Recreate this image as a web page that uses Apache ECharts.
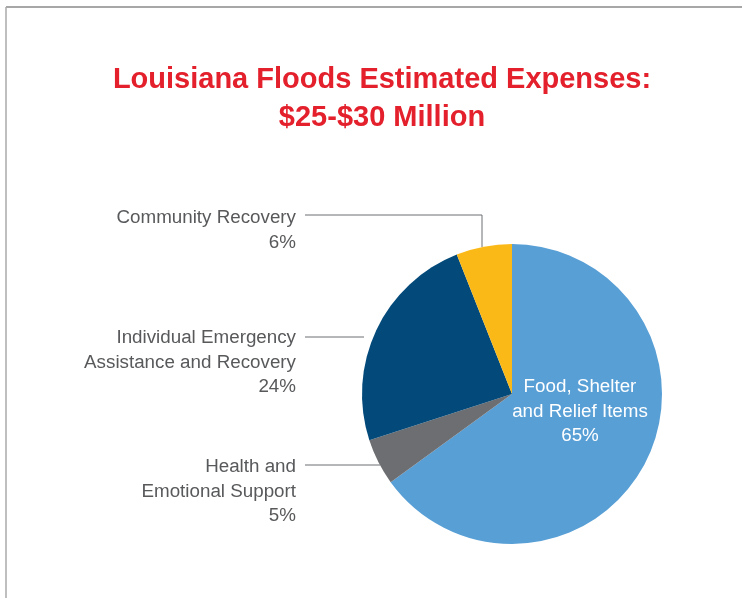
<!DOCTYPE html>
<html><head><meta charset="utf-8">
<script src="https://cdn.jsdelivr.net/npm/echarts@6/dist/echarts.min.js"></script>
<style>html,body{margin:0;padding:0;background:#fff}#c{width:742px;height:598px}</style>
</head><body><div id="c"></div>
<script>
const categories = ['Food, Shelter\nand Relief Items', 'Health and\nEmotional Support', 'Individual Emergency\nAssistance and Recovery', 'Community Recovery'];
const values = [65, 5, 24, 6];
const colors = ['#589fd6', '#6d6e71', '#034a7a', '#fbb918'];
const titleLines = ['Louisiana Floods Estimated Expenses:', '$25-$30 Million'];

const chart = echarts.init(document.getElementById('c'));
const labelPos = {
  0: {x: 580, y: 375, align: 'center'},
  1: {x: 296, y: 455, align: 'right', pts: [[380, 465], [305, 465]]},
  2: {x: 296, y: 326, align: 'right', pts: [[364, 337], [305, 337]]},
  3: {x: 296, y: 206, align: 'right', pts: [[482, 247], [482, 215], [305, 215]]}
};
chart.setOption({
  animation: false,
  title: {
    text: titleLines.join('\n'),
    left: 377, top: 56, textAlign: 'center',
    textStyle: {color: '#e3202b', fontSize: 29, fontWeight: 'bold', fontFamily: 'Liberation Sans', lineHeight: 38}
  },
  graphic: [
    {type: 'line', shape: {x1: 6, y1: 7, x2: 742, y2: 7}, style: {stroke: '#8a8a8a', lineWidth: 1.5}},
    {type: 'line', shape: {x1: 6, y1: 7, x2: 6, y2: 598}, style: {stroke: '#aaaaaa', lineWidth: 1.5}}
  ],
  series: [{
    type: 'pie',
    center: [512, 394],
    radius: 150,
    startAngle: 90,
    clockwise: true,
    color: colors,
    data: categories.map((n, i) => ({
      name: n, value: values[i],
      label: i === 0 ? {color: '#ffffff', position: 'inside', align: 'center', overflow: 'none'} : {color: '#58595b'},
      labelLine: {show: i !== 0}
    })),
    label: {
      show: true,
      formatter: p => p.name + '\n' + p.value + '%',
      fontFamily: 'Liberation Sans', fontSize: 18.8, lineHeight: 24.5,
      align: 'right', overflow: 'none'
    },
    labelLine: {show: true, lineStyle: {color: '#6d6e71', width: 1}},
    labelLayout: function (p) {
      const l = labelPos[p.dataIndex];
      const o = {x: l.x, y: l.y, align: l.align, verticalAlign: 'top'};
      if (l.pts) o.labelLinePoints = l.pts;
      return o;
    }
  }]
});
</script></body></html>
